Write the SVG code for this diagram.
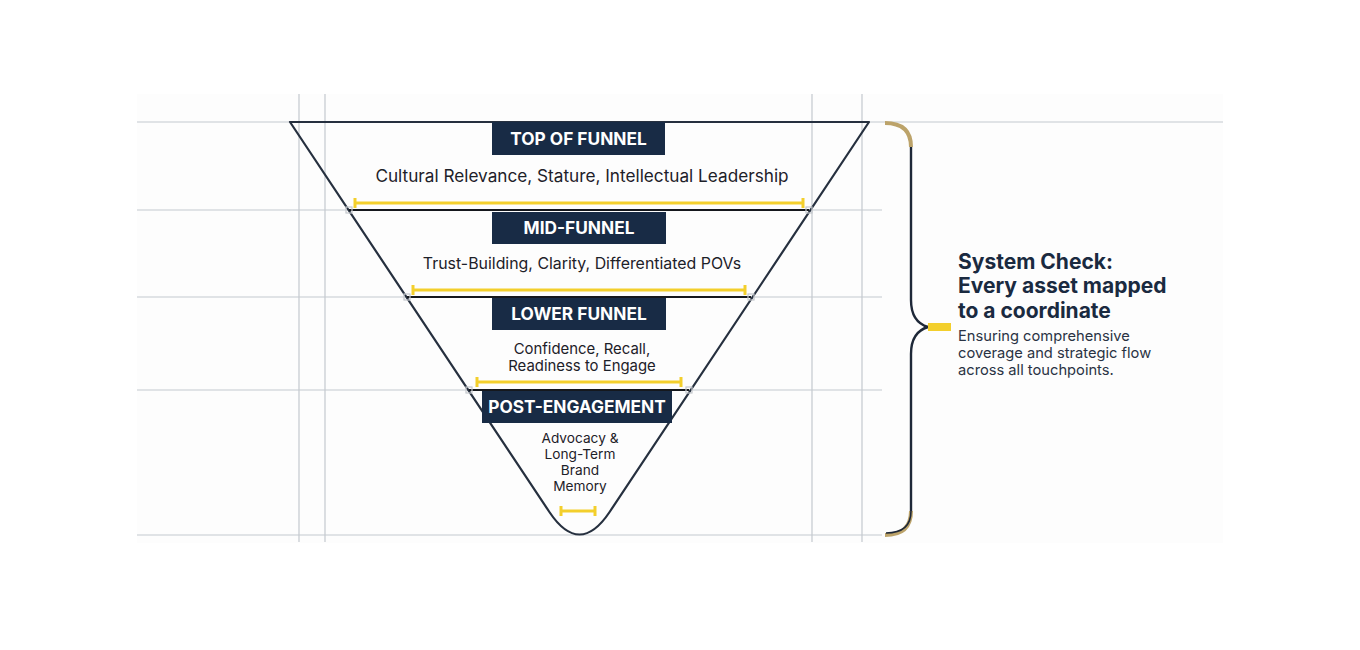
<svg xmlns="http://www.w3.org/2000/svg" width="1360" height="650" viewBox="0 0 1360 650">
<style>
.grid{stroke:#c4c9cf;stroke-width:1.2;fill:none}
.edge{stroke:#26303f;stroke-width:2.2;fill:none;stroke-linejoin:round}
.div{stroke:#15181d;stroke-width:2.2}
.meas{stroke:#f3cf2c;stroke-width:3;fill:none}
.corner{fill:none;stroke:#c3c7cc;stroke-width:1.2}
.box{fill:#182b45}
.ttl{font-family:Inter,'Noto Sans',sans-serif;font-weight:700;font-size:17.3px;fill:#ffffff;text-anchor:middle}
.body{font-family:Inter,'Noto Sans',sans-serif;fill:#1d2129;text-anchor:middle}
.h{font-family:Inter,'Noto Sans',sans-serif;font-weight:700;font-size:21px;fill:#1a2a40}
.sub{font-family:Inter,'Noto Sans',sans-serif;font-size:14.7px;fill:#2a3344}
</style>
<rect width="1360" height="650" fill="#ffffff"/>
<rect x="137" y="94" width="1086" height="449" fill="#fdfdfd"/>
<g id="grid">
<line class="grid" x1="137" y1="122" x2="1223" y2="122"/>
<line class="grid" x1="137" y1="210" x2="882" y2="210"/>
<line class="grid" x1="137" y1="297" x2="882" y2="297"/>
<line class="grid" x1="137" y1="390" x2="882" y2="390"/>
<line class="grid" x1="137" y1="535" x2="882" y2="535"/>
<line class="grid" x1="299" y1="94" x2="299" y2="542"/>
<line class="grid" x1="325" y1="94" x2="325" y2="542"/>
<line class="grid" x1="812" y1="94" x2="812" y2="542"/>
<line class="grid" x1="862" y1="94" x2="862" y2="542"/>
</g>
<g id="funnel">
<path class="edge" d="M290,122 L869,122 L609.6,512 Q579.5,557 549.4,512 Z" fill="#ffffff"/>
</g>
<g id="connectors">
<line class="div" x1="349" y1="210" x2="809" y2="210"/>
<line class="div" x1="407" y1="297" x2="751" y2="297"/>
<line class="div" x1="469" y1="390" x2="689" y2="390"/>
<rect class="corner" x="346" y="207" width="6" height="6"/>
<rect class="corner" x="806" y="207" width="6" height="6"/>
<rect class="corner" x="404" y="294" width="6" height="6"/>
<rect class="corner" x="748" y="294" width="6" height="6"/>
<rect class="corner" x="466" y="387" width="6" height="6"/>
<rect class="corner" x="686" y="387" width="6" height="6"/>
<path class="meas" d="M355,203 H803 M355,198 V208 M803,198 V208"/>
<path class="meas" d="M413,290 H745 M413,285 V295 M745,285 V295"/>
<path class="meas" d="M477,382 H681 M477,377 V387 M681,377 V387"/>
<path class="meas" d="M561,511 H595 M561,506 V516 M595,506 V516"/>
</g>
<g id="top-of-funnel">
<rect class="box" x="492" y="122" width="173" height="33"/>
<text class="ttl" x="578.5" y="144.5">TOP OF FUNNEL</text>
<text class="body" x="582" y="182" font-size="17.2">Cultural Relevance, Stature, Intellectual Leadership</text>
</g>
<g id="mid-funnel">
<rect class="box" x="492" y="212" width="174" height="32"/>
<text class="ttl" x="579" y="234">MID-FUNNEL</text>
<text class="body" x="582" y="269" font-size="15.9">Trust-Building, Clarity, Differentiated POVs</text>
</g>
<g id="lower-funnel">
<rect class="box" x="492" y="298" width="174" height="32"/>
<text class="ttl" x="579" y="320">LOWER FUNNEL</text>
<text class="body" x="582" y="354" font-size="14.9">Confidence, Recall,</text>
<text class="body" x="582" y="371" font-size="14.9">Readiness to Engage</text>
</g>
<g id="post-engagement">
<rect class="box" x="482" y="391" width="190" height="32"/>
<text class="ttl" x="577" y="413">POST-ENGAGEMENT</text>
<text class="body" x="580" y="443" font-size="13.7">Advocacy &amp;</text>
<text class="body" x="580" y="459" font-size="13.7">Long-Term</text>
<text class="body" x="580" y="475" font-size="13.7">Brand</text>
<text class="body" x="580" y="491" font-size="13.7">Memory</text>
</g>
<g id="brace">
<path d="M911,146 V300 Q911,322 928,327 Q911,332 911,354 V512" fill="none" stroke="#1e2838" stroke-width="2.4"/>
<path d="M885,123 Q911,123 911,147" fill="none" stroke="#bca36a" stroke-width="4"/>
<path d="M911,511 Q911,535 885,535" fill="none" stroke="#bca36a" stroke-width="4"/>
<path d="M911,511 Q911,533 886,533" fill="none" stroke="#1e2838" stroke-width="1.6"/>
<rect x="928" y="323" width="23" height="8" fill="#f3cf2c"/>
</g>
<g id="system-check">
<text class="h" x="958" y="269">System Check:</text>
<text class="h" x="958" y="293">Every asset mapped</text>
<text class="h" x="958" y="318">to a coordinate</text>
<text class="sub" x="958" y="341">Ensuring comprehensive</text>
<text class="sub" x="958" y="358">coverage and strategic flow</text>
<text class="sub" x="958" y="375">across all touchpoints.</text>
</g>
</svg>
